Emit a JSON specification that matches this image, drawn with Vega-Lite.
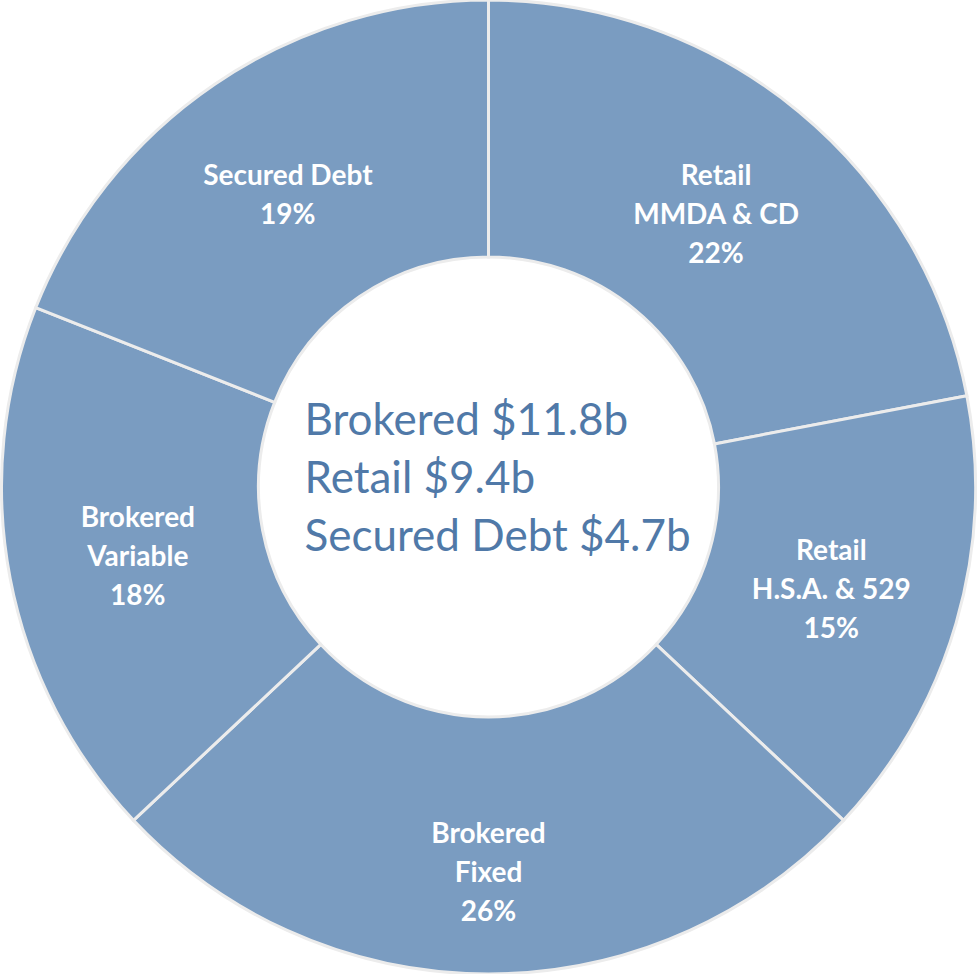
{
  "$schema": "https://vega.github.io/schema/vega-lite/v6.json",
  "autosize": {"type": "fit", "contains": "padding"},
  "width": 977,
  "height": 974,
  "padding": 0,
  "background": "white",
  "view": {"stroke": null},
  "datasets": {
    "slices": [
      {"order": 1, "segment": "Retail MMDA & CD", "label": ["Retail", "MMDA & CD", "22%"], "pct": 22},
      {"order": 2, "segment": "Retail H.S.A. & 529", "label": ["Retail", "H.S.A. & 529", "15%"], "pct": 15},
      {"order": 3, "segment": "Brokered Fixed", "label": ["Brokered", "Fixed", "26%"], "pct": 26},
      {"order": 4, "segment": "Brokered Variable", "label": ["Brokered", "Variable", "18%"], "pct": 18},
      {"order": 5, "segment": "Secured Debt", "label": ["Secured Debt", "19%"], "pct": 19}
    ],
    "center": [
      {"text": ["Brokered $11.8b", "Retail $9.4b", "Secured Debt $4.7b"]}
    ]
  },
  "layer": [
    {
      "data": {"name": "slices"},
      "mark": {"type": "arc", "outerRadius": 487, "innerRadius": 230, "fill": "#7a9cc1", "stroke": "#ececec", "strokeWidth": 3},
      "encoding": {
        "theta": {"field": "pct", "type": "quantitative", "stack": true},
        "order": {"field": "order", "type": "quantitative"}
      }
    },
    {
      "data": {"name": "slices"},
      "mark": {"type": "text", "radius": 357, "font": "Lato", "fontWeight": "bold", "fontSize": 28, "fill": "white", "lineHeight": 39, "align": "center", "baseline": "middle", "dy": -35},
      "encoding": {
        "theta": {"field": "pct", "type": "quantitative", "stack": true},
        "order": {"field": "order", "type": "quantitative"},
        "text": {"condition": {"test": "datum.order == 1 || datum.order == 2 || datum.order == 4", "field": "label"}, "value": ""}
      }
    },
    {
      "data": {"name": "slices"},
      "mark": {"type": "text", "radius": 357, "font": "Lato", "fontWeight": "bold", "fontSize": 28, "fill": "white", "lineHeight": 39, "align": "center", "baseline": "middle", "dy": -15},
      "encoding": {
        "theta": {"field": "pct", "type": "quantitative", "stack": true},
        "order": {"field": "order", "type": "quantitative"},
        "text": {"condition": {"test": "datum.order == 5", "field": "label"}, "value": ""}
      }
    },
    {
      "data": {"name": "slices"},
      "mark": {"type": "text", "radius": 385, "font": "Lato", "fontWeight": "bold", "fontSize": 28, "fill": "white", "lineHeight": 39, "align": "center", "baseline": "middle", "dy": -37},
      "encoding": {
        "theta": {"field": "pct", "type": "quantitative", "stack": true},
        "order": {"field": "order", "type": "quantitative"},
        "text": {"condition": {"test": "datum.order == 3", "field": "label"}, "value": ""}
      }
    },
    {
      "data": {"name": "center"},
      "mark": {"type": "text", "font": "Lato", "fontSize": 44, "fill": "#5079a8", "lineHeight": 58, "align": "left", "baseline": "middle", "dx": -184, "dy": -65},
      "encoding": {
        "text": {"field": "text"}
      }
    }
  ]
}
